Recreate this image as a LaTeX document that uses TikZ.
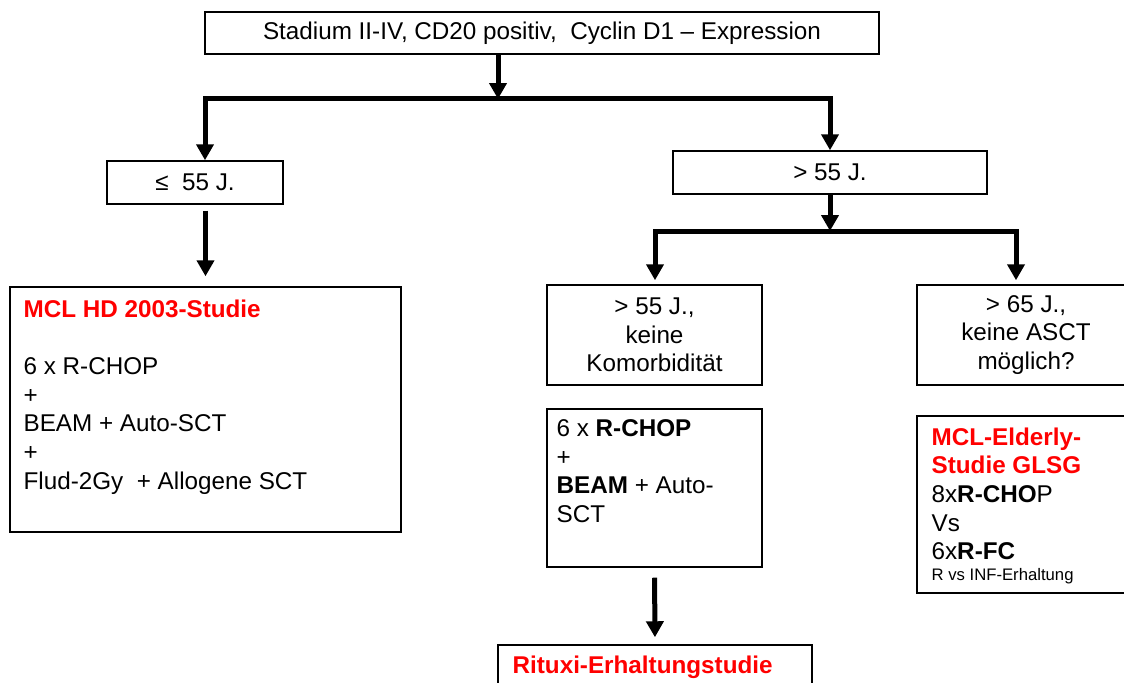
\documentclass[tikz,border=0pt]{standalone}
\usepackage{fontspec}
\setmainfont{Liberation Sans}
\usetikzlibrary{arrows.meta,positioning,calc}
\definecolor{TitleRed}{HTML}{FF0000}

\tikzset{
  box/.style={draw,line width=0.03cm,inner sep=0pt,align=center,
              font=\fontsize{13.8}{16.3}\selectfont},
  txt/.style={anchor=north west,inner sep=0pt,align=left,
              font=\fontsize{13.8}{16.3}\selectfont},
  flow/.style={line width=0.1cm,->}
}

\begin{document}
\begin{tikzpicture}[>={Triangle[width=0.34cm,length=0.32cm]},x=0.02cm,y=-0.02cm]
  \useasboundingbox (0,0) rectangle (1124,682);

  % upper level
  \node[box,minimum width=13.48cm,minimum height=0.84cm] (top) at (542,33)
        {Stadium II-IV, CD20 positiv,\ \ Cyclin D1 – Expression};
  \node[box,minimum width=3.52cm,minimum height=0.86cm] (le) at (195,182.5)
        {≤\ \ 55 J.};
  \node[box,minimum width=6.28cm,minimum height=0.86cm] (gt) at (830,172.5)
        {> 55 J.};

  \coordinate (jm) at (498,99);
  \coordinate (jl) at (205,99);
  \coordinate (jr) at (830,99);
  \draw[flow] (top.south -| jm) -- (jm);
  \draw[flow,line join=miter] (jm) -- (jl) -- (jl |- le.north);
  \draw[flow,line join=miter] (jm) -- (jr) -- (gt.north);

  % left branch
  \node[box,minimum width=7.82cm,minimum height=4.9cm] (hd) at (205.5,409.5) {};
  \node[txt] (hd-t) at ([shift={(14,13)}]hd.north west)
        {\textcolor{TitleRed}{\textbf{MCL HD 2003-Studie}}\\[16.3pt]
         6 x R-CHOP\\
         +\\
         BEAM + Auto-SCT\\
         +\\
         Flud-2Gy\ \ + Allogene SCT};
  \draw[flow,shorten <=0.12cm,shorten >=0.2cm] (le.south -| hd.north) -- (hd.north);

  % right branch
  \node[box,minimum width=4.3cm,minimum height=2cm] (kom) at (654.5,335)
        {> 55 J.,\\keine\\Komorbidität};
  \node[box,minimum width=4.36cm,minimum height=2cm] (asct) at (1026,335)
        {> 65 J.,\\keine ASCT\\möglich?};

  \coordinate (km) at (830,231);
  \coordinate (kl) at (655,231);
  \coordinate (kr) at (1016,231);
  \draw[flow] (gt.south) -- (km);
  \draw[flow,line join=miter,shorten >=0.08cm] (km) -- (kl) -- (kl |- kom.north);
  \draw[flow,line join=miter,shorten >=0.08cm] (km) -- (kr) -- (kr |- asct.north);

  \node[box,minimum width=4.3cm,minimum height=3.16cm] (beam) at (654.5,488) {};
  \node[txt] (beam-t) at ([shift={(10,11)}]beam.north west)
        {6 x \textbf{R-CHOP}\\
         +\\
         \textbf{BEAM} + Auto-\\
         SCT};

  \node[box,minimum width=4.36cm,minimum height=3.54cm] (eld) at (1026,504.5) {};
  \node[txt] (eld-t) at ([shift={(15,12)}]eld.north west)
        {\textcolor{TitleRed}{\textbf{MCL-Elderly-}}\\
         \textcolor{TitleRed}{\textbf{Studie GLSG}}\\
         8x\textbf{R-CHO}P\\
         Vs\\
         6x\textbf{R-FC}\\[-4.5pt]
         {\fontsize{9.5}{12}\selectfont R vs INF-Erhaltung}};

  \node[box,minimum width=6.28cm,minimum height=1.5cm] (rit) at (655,682.5) {};
  \node[txt] (rit-t) at ([shift={(15,11)}]rit.north west)
        {\textcolor{TitleRed}{\textbf{Rituxi-Erhaltungstudie}}};
  \draw[flow,shorten <=0.2cm,shorten >=0.14cm] (beam.south) -- (rit.north);
\end{tikzpicture}
\end{document}
